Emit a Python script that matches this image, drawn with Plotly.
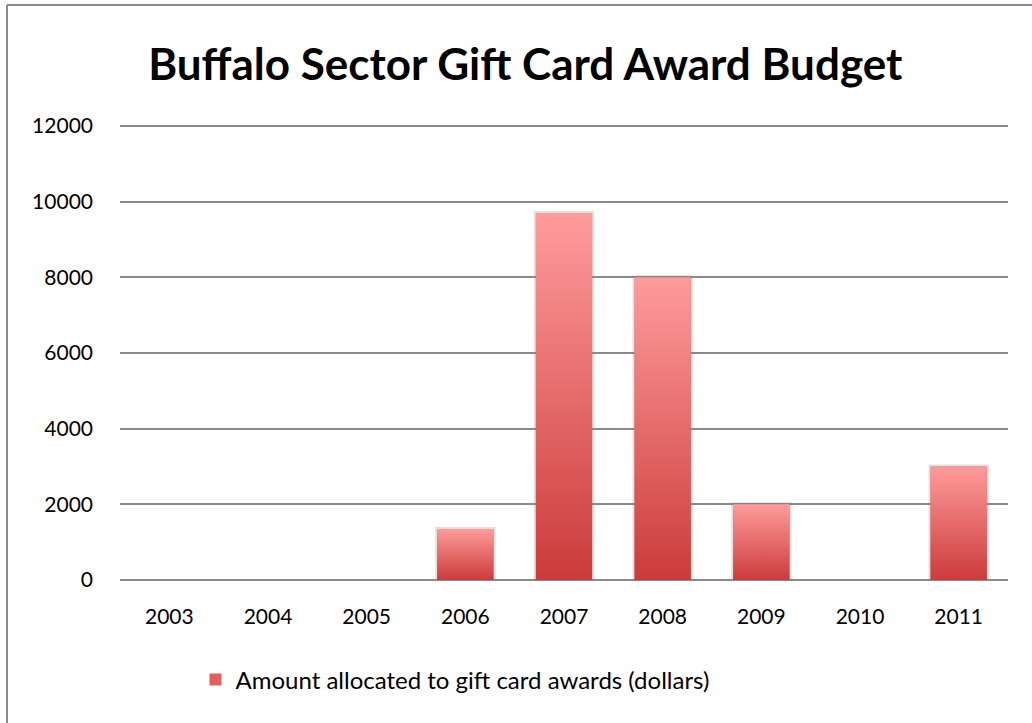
import plotly.graph_objects as go

# Budget figures by fiscal year
years = ["2003", "2004", "2005", "2006", "2007", "2008", "2009", "2010", "2011"]
amounts = [0, 0, 0, 1350, 9700, 8000, 2000, 0, 3000]
y_ticks = [0, 2000, 4000, 6000, 8000, 10000, 12000]
y_tick_labels = [str(v) for v in y_ticks]

series_name = "Amount allocated to gift card awards (dollars)"
title_text = "Buffalo Sector Gift Card Award Budget"

TOP_COLOR = "#FF9B9B"
BOTTOM_COLOR = "#CC3B3B"
GRID_COLOR = "#8a8a8a"
BAR_WIDTH = 0.57
FONT = "Lato"

W, H = 1032, 723
ML, MR, MT, MB = 120, 24, 126, 143

xs = list(range(len(years)))

fig = go.Figure()

# Base bars (carry the legend entry and a faint soft edge)
fig.add_trace(go.Bar(
    x=xs, y=amounts, width=BAR_WIDTH, name=series_name,
    marker=dict(color="#E06060",
                line=dict(color="rgba(120,120,120,0.22)",
                          width=[4 if v > 0 else 0 for v in amounts])),
    showlegend=True,
))

# Vertical gradient fill on each bar, spanning that bar's own height
for x, v in zip(xs, amounts):
    if v <= 0:
        continue
    half = BAR_WIDTH / 2
    fig.add_trace(go.Scatter(
        x=[x - half, x + half, x + half, x - half, x - half],
        y=[0, 0, v, v, 0],
        mode="lines", fill="toself", line=dict(width=0),
        fillgradient=dict(type="vertical", start=0, stop=v,
                          colorscale=[[0, BOTTOM_COLOR], [1, TOP_COLOR]]),
        showlegend=False, hoverinfo="skip",
    ))

# Top gridline sits on the upper edge of the plot area (range max = last tick),
# so draw it in paper coordinates where it is not clipped
fig.add_shape(type="line", xref="paper", yref="paper", x0=0, x1=1, y0=1, y1=1,
              line=dict(color=GRID_COLOR, width=2), layer="below")

# Outer chart frame (top and left edges)
pw, ph = W - ML - MR, H - MT - MB
left_px, top_px = 7, 5
fx0 = (left_px - ML) / pw
fy1 = (H - MB - top_px) / ph
frame = dict(color="#8a8a8a", width=2)
fig.add_shape(type="line", xref="paper", yref="paper", x0=fx0, x1=(W - ML) / pw + 0.01,
              y0=fy1, y1=fy1, line=frame)
fig.add_shape(type="line", xref="paper", yref="paper", x0=fx0, x1=fx0,
              y0=fy1, y1=-MB / ph - 0.01, line=frame)

fig.update_layout(
    width=W, height=H,
    margin=dict(l=ML, r=MR, t=MT, b=MB),
    paper_bgcolor="white", plot_bgcolor="white",
    font=dict(family=FONT, color="#000000"),
    title=dict(text=f"<b>{title_text}</b>", x=0.509, xanchor="center", y=0.91, yanchor="middle",
               font=dict(family=FONT, size=44, color="#000000")),
    showlegend=True,
    legend=dict(orientation="h", x=0.085, xanchor="left", y=-0.22, yanchor="middle",
                font=dict(family=FONT, size=24, color="#000000"),
                bgcolor="rgba(0,0,0,0)"),
    bargap=0.43,
)

fig.update_xaxes(
    range=[-0.5, len(years) - 0.5],
    tickmode="array", tickvals=xs, ticktext=years,
    tickfont=dict(family=FONT, size=21, color="#000000"),
    showgrid=False, zeroline=False, showline=False, ticks="",
    ticklabelstandoff=22, fixedrange=True,
)
fig.update_yaxes(
    range=[0, y_ticks[-1]], tickmode="array", tickvals=y_ticks, ticktext=y_tick_labels,
    tickfont=dict(family=FONT, size=21, color="#000000"),
    showgrid=True, gridcolor=GRID_COLOR, gridwidth=2,
    zeroline=True, zerolinecolor=GRID_COLOR, zerolinewidth=2,
    showline=False, ticks="", ticklabelstandoff=26, fixedrange=True,
)

fig.write_html("out.html")
